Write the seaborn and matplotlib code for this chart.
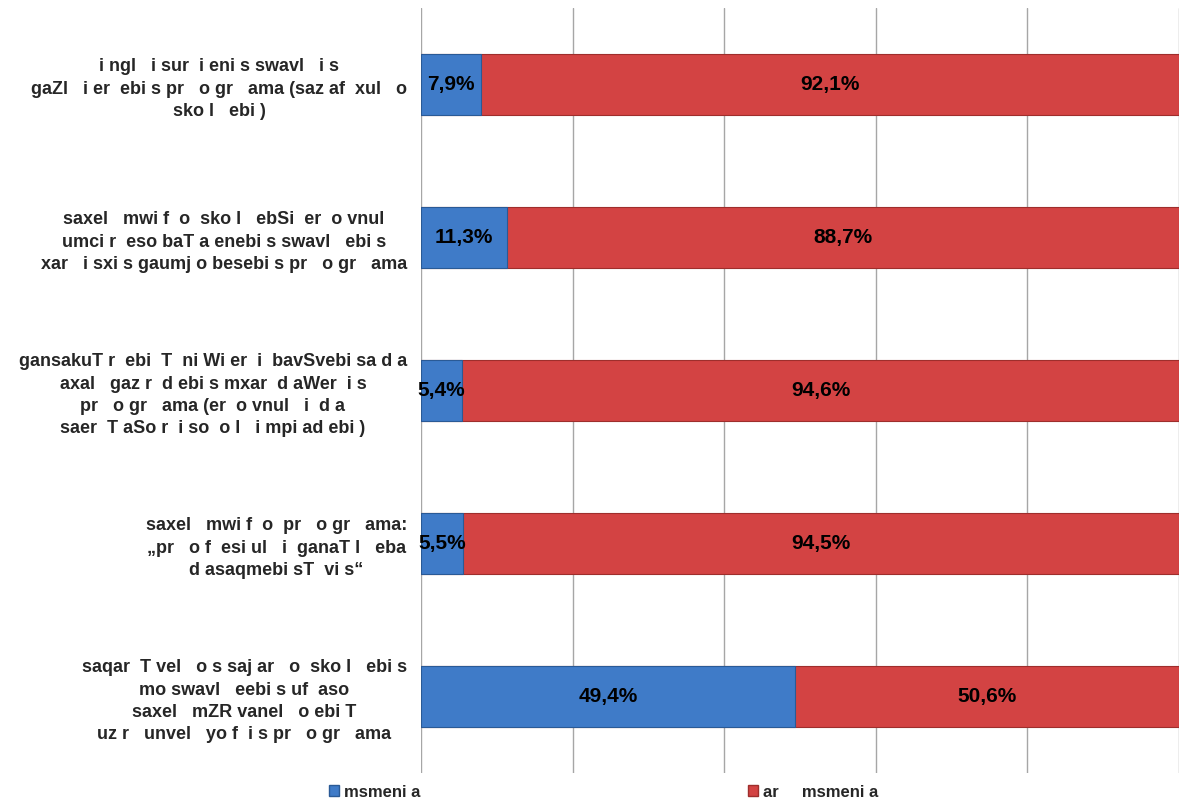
import matplotlib
matplotlib.use("Agg")
import matplotlib.pyplot as plt
import seaborn as sns
import pandas as pd
from matplotlib.patches import Patch

categories = [
    "i ngl   i sur  i eni s swavl   i s\ngaZl   i er  ebi s pr   o gr   ama (saz af  xul   o\nsko l   ebi )",
    "saxel   mwi f  o  sko l   ebSi  er  o vnul\numci r  eso baT a enebi s swavl   ebi s\nxar   i sxi s gaumj o besebi s pr   o gr   ama",
    "gansakuT r  ebi  T  ni Wi er  i  bavSvebi sa d a\naxal   gaz r  d ebi s mxar  d aWer  i s\npr   o gr   ama (er  o vnul   i  d a\nsaer  T aSo r  i so  o l   i mpi ad ebi )",
    "saxel   mwi f  o  pr   o gr   ama:\n„pr   o f  esi ul   i  ganaT l   eba\nd asaqmebi sT  vi s“",
    "saqar  T vel   o s saj ar   o  sko l   ebi s\nmo swavl   eebi s uf  aso\nsaxel   mZR vanel   o ebi T\nuz r   unvel   yo f  i s pr   o gr   ama",
]
yes_values = [7.9, 11.3, 5.4, 5.5, 49.4]
no_values = [92.1, 88.7, 94.6, 94.5, 50.6]
series_names = ["msmeni a", "ar     msmeni a"]

blue = "#3F7BC8"
red = "#D34343"

df = pd.DataFrame({"cat": categories, "yes": yes_values, "no": no_values})
df["total"] = df["yes"] + df["no"]

sns.set_theme(style="white")
plt.rcParams["font.family"] = ["Liberation Sans", "DejaVu Sans"]

fig = plt.figure(figsize=(11.79, 8.05), dpi=100)
ax = fig.add_axes([421 / 1179, 1 - 773 / 805, 1 - 421 / 1179, (773 - 8) / 805])

sns.barplot(data=df, y="cat", x="total", color=red, orient="h", width=0.4,
            edgecolor="#9E2E2C", linewidth=0.8, ax=ax, zorder=3, saturation=1)
sns.barplot(data=df, y="cat", x="yes", color=blue, orient="h", width=0.4,
            edgecolor="#2A5A96", linewidth=0.8, ax=ax, zorder=4, saturation=1)

ax.set_xlim(0, 100)
ax.set_ylim(4.5, -0.5)
ax.set_xticks([0, 20, 40, 60, 80, 100])
ax.set_xticklabels([])
ax.grid(axis="x", color="#A6A6A6", linewidth=1, zorder=0)
ax.grid(axis="y", visible=False)
for s in ax.spines.values():
    s.set_visible(False)
ax.set_xlabel("")
ax.set_ylabel("")
ax.tick_params(axis="y", length=0, pad=10)
ax.tick_params(axis="x", length=0)
for lab in ax.get_yticklabels():
    lab.set_fontsize(13)
    lab.set_fontweight("bold")
    lab.set_multialignment("center")
    lab.set_linespacing(1.4)

def fmt(v):
    return f"{v:.1f}%".replace(".", ",")

for i, (y, n) in enumerate(zip(yes_values, no_values)):
    ax.text(y / 2, i, fmt(y), ha="center", va="center", fontsize=15,
            fontweight="bold", color="black", zorder=6)
    ax.text(y + n / 2, i, fmt(n), ha="center", va="center", fontsize=15,
            fontweight="bold", color="black", zorder=6)

handles = [Patch(facecolor=blue, edgecolor="#2A5A96"), Patch(facecolor=red, edgecolor="#9E2E2C")]
leg = fig.legend(handles, series_names, loc="center", bbox_to_anchor=(0.512, 1 - 792 / 805),
                 ncol=2, frameon=False, columnspacing=19.7, handlelength=0.6, handleheight=0.6,
                 handletextpad=0.3, prop={"weight": "bold", "size": 12})

fig.savefig("out.png", dpi=100)
